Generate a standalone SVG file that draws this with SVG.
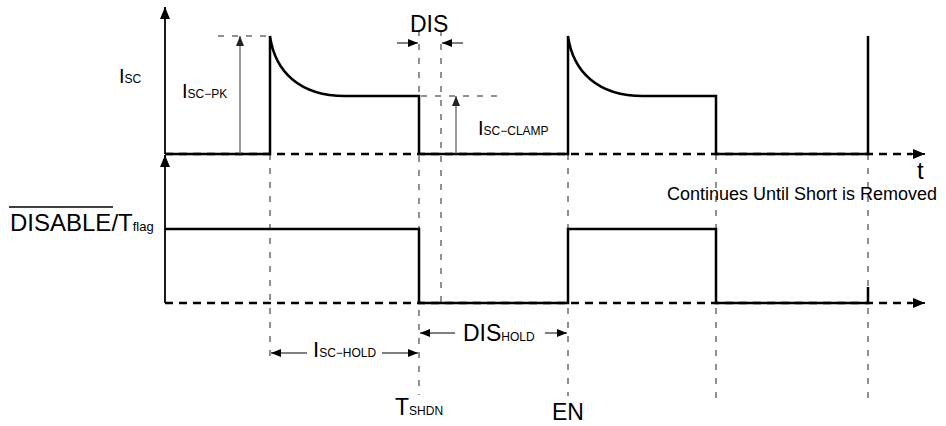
<svg xmlns="http://www.w3.org/2000/svg" width="946" height="426" viewBox="0 0 946 426">
<style>
text{font-family:"Liberation Sans",Arial,sans-serif;fill:#000}
.big{font-size:23px}
.mid{font-size:20px}
.sub{font-size:12px}
.sig{fill:none;stroke:#000;stroke-width:2.5;stroke-linejoin:miter}
.base{fill:none;stroke:#000;stroke-width:2.5;stroke-dasharray:8 6}
.guide{fill:none;stroke:#222;stroke-width:1;stroke-dasharray:6 8}
.axis{fill:none;stroke:#000;stroke-width:1.8}
.thin{fill:none;stroke:#000;stroke-width:1}
.gray{fill:none;stroke:#555;stroke-width:1.2}
</style>
<defs>
<marker id="ah" markerUnits="userSpaceOnUse" markerWidth="10" markerHeight="8" refX="10" refY="4" orient="auto"><path d="M0,0 L10,4 L0,8 z" fill="#000"/></marker>
<marker id="ahg" markerUnits="userSpaceOnUse" markerWidth="10" markerHeight="8" refX="10" refY="4" orient="auto"><path d="M0,0 L10,4 L0,8 z" fill="#222"/></marker>
<marker id="ax" markerUnits="userSpaceOnUse" markerWidth="12" markerHeight="10" refX="12" refY="5" orient="auto"><path d="M0,0 L12,5 L0,10 z" fill="#000"/></marker>
</defs>

<g id="guides">
<line class="guide" x1="270" y1="154" x2="270" y2="362"/>
<line class="guide" x1="419" y1="30" x2="419" y2="395"/>
<line class="guide" x1="441" y1="30" x2="441" y2="303"/>
<line class="guide" x1="568" y1="154" x2="568" y2="396"/>
<line class="guide" x1="716" y1="154" x2="716" y2="400"/>
<line class="guide" x1="868" y1="154" x2="868" y2="400"/>
<line class="guide" x1="218" y1="36" x2="268" y2="36"/>
<line class="guide" x1="421" y1="96" x2="502" y2="96"/>
</g>

<g id="axes">
<line class="axis" x1="165" y1="154" x2="165" y2="7" marker-end="url(#ax)"/>
<line class="axis" x1="165" y1="303" x2="165" y2="155" marker-end="url(#ax)"/>
<line class="base" x1="165" y1="154" x2="912" y2="154"/>
<line class="base" x1="165" y1="303" x2="912" y2="303"/>
<line class="axis" x1="908" y1="154" x2="925" y2="154" marker-end="url(#ax)"/>
<line class="axis" x1="908" y1="303" x2="925" y2="303" marker-end="url(#ax)"/>
</g>

<g id="isc-signal">
<path class="sig" d="M165,154 H270 V36 C275,72 300,96 345,96 H419 V154 H568 V36 C573,72 598,96 643,96 H716 V154 H868 V36"/>
</g>

<g id="disable-signal">
<path class="sig" d="M165,229 H419 V303 H568 V229 H716 V303 H868 V287"/>
</g>

<g id="connectors">
<line class="gray" x1="240" y1="154" x2="240" y2="36" marker-end="url(#ahg)"/>
<line class="gray" x1="456" y1="154" x2="456" y2="96" marker-end="url(#ahg)"/>
<line class="thin" x1="397" y1="43" x2="418" y2="43" marker-end="url(#ah)"/>
<line class="thin" x1="463" y1="43" x2="442" y2="43" marker-end="url(#ah)"/>
<line class="thin" x1="307" y1="353" x2="271" y2="353" marker-end="url(#ah)"/>
<line class="thin" x1="382" y1="353" x2="418" y2="353" marker-end="url(#ah)"/>
<line class="thin" x1="455" y1="333" x2="420" y2="333" marker-end="url(#ah)"/>
<line class="thin" x1="545" y1="333" x2="567" y2="333" marker-end="url(#ah)"/>
</g>

<g id="labels">
<text x="119" y="83" class="mid">I<tspan class="sub">SC</tspan></text>
<text x="182" y="98" class="mid">I<tspan class="sub">SC−PK</tspan></text>
<text x="478" y="135" class="mid">I<tspan class="sub">SC−CLAMP</tspan></text>
<text x="410" y="32" class="big">DIS</text>
<text x="917" y="179" style="font-size:24px">t</text>
<text x="667" y="200" style="font-size:18px">Continues Until Short is Removed</text>
<text x="10" y="231" style="font-size:24px">DISABLE/T<tspan class="sub" style="font-size:13px">flag</tspan></text>
<line x1="9" y1="207" x2="113" y2="207" stroke="#000" stroke-width="1.6"/>
<text x="313" y="357" style="font-size:22px">I<tspan class="sub">SC−HOLD</tspan></text>
<text x="463" y="341" class="big">DIS<tspan class="sub">HOLD</tspan></text>
<text x="395" y="415" class="big">T<tspan class="sub">SHDN</tspan></text>
<text x="552" y="420" class="big">EN</text>
</g>
</svg>
